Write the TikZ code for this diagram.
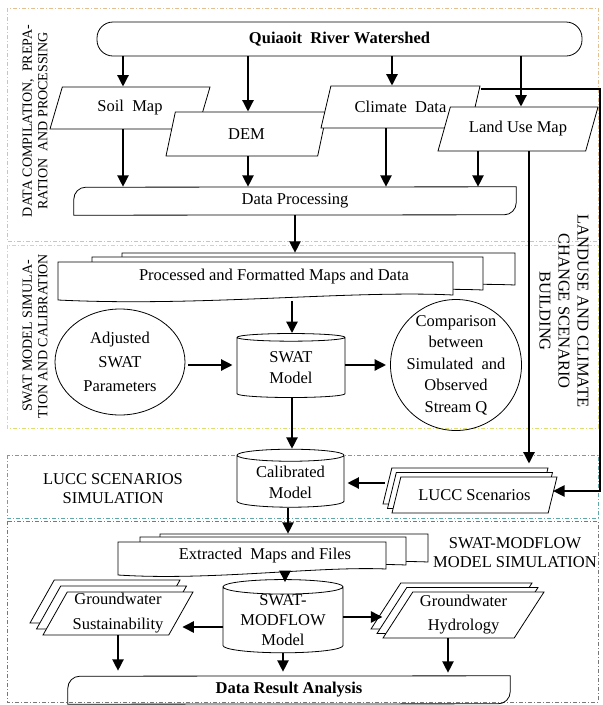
\documentclass[tikz,border=0pt]{standalone}
\usepackage{fontspec}
\setmainfont{Liberation Serif}
\usetikzlibrary{shapes.geometric,shadows,arrows.meta}
\definecolor{diagcolor0001}{RGB}{226,192,146}
\definecolor{diagcolor0002}{RGB}{222,222,112}
\definecolor{diagcolor0003}{RGB}{96,168,168}
\definecolor{diagcolor0004}{RGB}{120,120,120}

\begin{document}
\begin{tikzpicture}[yscale=-1
,font=\fontsize{16.5}{20}\selectfont
,pstyle0/.style={line width=0.8pt,dash pattern=on 4pt off 2pt on 1pt off 2pt}
,pstyle1/.style={color=black,line width=0.8pt}
,pstyle2/.style={color=black,fill=white,line width=0.8pt}
,pstyle3/.style={color=black,line width=2.4pt,-{Triangle[length=11.5pt,width=11pt]}}
,tstyle0/.style={draw=black,fill=white,line width=0.8pt,rounded corners=16pt,minimum width=485pt,minimum height=34pt}
,tstyle1/.style={trapezium,trapezium left angle=54,trapezium right angle=126,trapezium stretches body,draw=black,fill=white,line width=0.8pt,inner sep=1pt,align=center}
,tstyle2/.style={cylinder,shape border rotate=90,shape aspect=0.17,draw=black,fill=white,line width=0.8pt,inner sep=1pt,align=center,font=\fontsize{16.5}{21}\selectfont}
,tstyle3/.style={minimum width=442pt,minimum height=28pt,inner sep=0pt}
,lstyle0/.style={font=\fontsize{14}{15.5}\selectfont,align=center,inner sep=0pt}
,lstyle1/.style={font=\fontsize{16.5}{19}\selectfont,align=center,inner sep=0pt}
]
\useasboundingbox (0pt,0pt) rectangle (603pt,705pt);
\draw[pstyle0,color=diagcolor0001] (7pt,8pt) rectangle (598pt,241pt);
\draw[pstyle0,color=diagcolor0002] (7pt,245pt) rectangle (598pt,428pt);
\draw[pstyle0,color=diagcolor0003] (7pt,455pt) rectangle (598pt,518pt);
\draw[pstyle0,color=diagcolor0004] (7pt,521pt) rectangle (598pt,702pt);
\draw[pstyle2] (122pt,253pt) -- (515pt,253pt) -- (515pt,285pt) .. controls (420pt,281pt) and (260pt,296pt) .. (122pt,289pt) -- cycle;
\draw[pstyle2] (92pt,257pt) -- (483pt,257pt) -- (483pt,290pt) .. controls (390pt,286pt) and (230pt,301pt) .. (92pt,294pt) -- cycle;
\draw[pstyle2] (58pt,262pt) -- (453pt,262pt) -- (453pt,295pt) .. controls (350pt,290pt) and (200pt,307pt) .. (58pt,300pt) -- cycle;
\draw[pstyle2] (160pt,534pt) -- (428pt,534pt) -- (428pt,562pt) .. controls (360pt,559pt) and (250pt,571pt) .. (160pt,566pt) -- cycle;
\draw[pstyle2] (140pt,537pt) -- (406pt,537pt) -- (406pt,565pt) .. controls (338pt,562pt) and (230pt,574pt) .. (140pt,570pt) -- cycle;
\draw[pstyle2] (118pt,542pt) -- (386pt,542pt) -- (386pt,569pt) .. controls (318pt,566pt) and (210pt,581pt) .. (118pt,575pt) -- cycle;
\node[tstyle0] (qrw) at (339.5pt,39pt) {\textbf{Quiaoit~~River Watershed}};
\node[tstyle1,minimum width=160pt,minimum height=42pt] (soil) at (130pt,108pt) {Soil~~Map};
\node[tstyle1,minimum width=161pt,minimum height=44pt] (dem) at (246.5pt,134pt) {DEM};
\node[tstyle1,minimum width=159pt,minimum height=42pt] (clim) at (400.5pt,107pt) {Climate~~Data};
\node[tstyle1,minimum width=160pt,minimum height=44pt] (lum) at (518pt,129pt) {Land Use Map};
\node[tstyle3] (dp) at (295pt,201pt) {Data Processing};
\node[minimum height=48pt,inner sep=0pt] (pfd) at (274pt,277pt) {Processed and Formatted Maps and Data};
\node[ellipse,draw=black,line width=0.8pt,minimum width=130pt,minimum height=106pt,inner sep=0pt,align=center,font=\fontsize{16.5}{24}\selectfont] (asp) at (120pt,362pt) {Adjusted\\SWAT\\Parameters};
\node[tstyle2,minimum width=108pt,minimum height=64pt] (swat) at (291pt,368pt) {SWAT\\Model};
\node[circle,draw=black,line width=0.8pt,minimum size=131pt,inner sep=-8pt,align=center,font=\fontsize{16.5}{21.5}\selectfont] (cmp) at (456pt,365pt) {Comparison\\between\\Simulated~~and\\Observed\\Stream Q};
\node[tstyle2,minimum width=107pt,minimum height=58pt] (cal) at (290.5pt,482pt) {Calibrated\\Model};
\node[tstyle1,trapezium left angle=56,trapezium right angle=124,minimum width=165pt,minimum height=36pt,double copy shadow={shadow xshift=-4.5pt,shadow yshift=4.5pt}] (lucc) at (474.5pt,495pt) {LUCC Scenarios};
\node[minimum height=44pt,inner sep=0pt] (emf) at (265pt,556pt) {Extracted~~Maps and Files};
\node[tstyle2,minimum width=120pt,minimum height=70pt,inner sep=0pt,font=\fontsize{16.5}{20}\selectfont] (smf) at (283pt,620pt) {SWAT-\\MODFLOW\\Model};
\node[tstyle1,trapezium left angle=60,trapezium right angle=120,minimum width=150pt,minimum height=43pt,double copy shadow={shadow xshift=-6.5pt,shadow yshift=6pt},font=\fontsize{16.5}{25}\selectfont] (gws) at (118pt,613.5pt) {Groundwater\\Sustainability};
\node[tstyle1,minimum width=161pt,minimum height=46pt,double copy shadow={shadow xshift=-6pt,shadow yshift=4.5pt},font=\fontsize{16.5}{24}\selectfont] (gwh) at (463.5pt,615pt) {Groundwater\\Hydrology};
\node[tstyle3] (dra) at (289pt,690pt) {\textbf{Data Result Analysis}};
\node[lstyle0,rotate=90] (lab0) at (35pt,121pt) {DATA COMPILATION,~~PREPA-\\RATION~~AND PROCESSING};
\node[lstyle0,rotate=90] (lab1) at (35pt,336pt) {SWAT MODEL SIMULA-\\TION AND CALIBRATION};
\node[lstyle1,rotate=-90] (lab2) at (564pt,311pt) {LANDUSE AND CLIMATE\\CHANGE SCENARIO\\BUILDING};
\node[lstyle1] (lab3) at (113pt,489pt) {LUCC SCENARIOS\\SIMULATION};
\node[lstyle1] (lab4) at (515pt,553pt) {SWAT-MODFLOW\\MODEL SIMULATION};
\draw[pstyle1] (dp.south west) -- ++(0pt,-16pt) arc (180:270:12pt) -- (dp.north east) -- ++(0pt,16pt) arc (0:90:12pt) -- cycle;
\draw[pstyle1] (dra.south west) -- ++(0pt,-16pt) arc (180:270:12pt) -- (dra.north east) -- ++(0pt,16pt) arc (0:90:12pt) -- cycle;
\coordinate (c1) at (123pt,0pt);
\coordinate (c2) at (248pt,0pt);
\coordinate (c3) at (392pt,0pt);
\coordinate (c4) at (521pt,0pt);
\coordinate (c5) at (386pt,0pt);
\coordinate (c6) at (478pt,0pt);
\coordinate (c7) at (529pt,0pt);
\coordinate (c8) at (600pt,0pt);
\coordinate (c9) at (295pt,0pt);
\coordinate (c10) at (292pt,0pt);
\coordinate (c11) at (288pt,0pt);
\coordinate (c12) at (285pt,0pt);
\coordinate (c13) at (448pt,0pt);
\coordinate (r0) at (0pt,89pt);
\coordinate (r2) at (0pt,491pt);
\coordinate (r3) at (0pt,365pt);
\coordinate (r4) at (0pt,483pt);
\coordinate (r5) at (0pt,627pt);
\coordinate (r6) at (0pt,617pt);
\draw[pstyle3] (qrw.south -| c1) -- (soil.north -| c1);
\draw[pstyle3] (qrw.south -| c2) -- (dem.north -| c2);
\draw[pstyle3] (qrw.south -| c3) -- (clim.north -| c3);
\draw[pstyle3] (qrw.south -| c4) -- (lum.north -| c4);
\draw[pstyle3] (soil.south -| c1) -- (dp.north -| c1);
\draw[pstyle3] (dem.south -| c2) -- (dp.north -| c2);
\draw[pstyle3] (clim.south -| c5) -- (dp.north -| c5);
\draw[pstyle3] (lum.south -| c6) -- (dp.north -| c6);
\draw[pstyle3,shorten >=13pt] (lum.south -| c7) -- (lucc.north -| c7);
\draw[pstyle3] (clim.top right corner |- r0) -- (c8 |- r0) -- (c8 |- r2) -- (lucc.east |- r2);
\draw[pstyle3] (dp.south -| c9) -- (pfd.north -| c9);
\draw[pstyle3] (pfd.south -| c10) -- (swat.north -| c10);
\draw[pstyle3,shorten <=3pt,shorten >=4pt] (asp.east |- r3) -- (swat.west |- r3);
\draw[pstyle3,shorten >=4pt] (swat.east |- r3) -- (cmp.west |- r3);
\draw[pstyle3] (swat.south -| c10) -- (cal.north -| c10);
\draw[pstyle3,shorten <=11pt,shorten >=3pt] (lucc.west |- r4) -- (cal.east |- r4);
\draw[pstyle3] (cal.south -| c11) -- (emf.north -| c11);
\draw[pstyle3,shorten >=-3pt] (emf.south -| c12) -- (smf.north -| c12);
\draw[pstyle3,shorten >=1pt] (smf.west |- r5) -- (gws.east |- r5);
\draw[pstyle3,shorten >=15pt] (smf.east |- r6) -- (gwh.west |- r6);
\draw[pstyle3,shorten >=5pt] (gws.south) -- (gws.south |- dra.north);
\draw[pstyle3,shorten >=4pt] (smf.south) -- (smf.south |- dra.north);
\draw[pstyle3,shorten >=3pt] (gwh.south -| c13) -- (dra.north -| c13);
\end{tikzpicture}
\end{document}
